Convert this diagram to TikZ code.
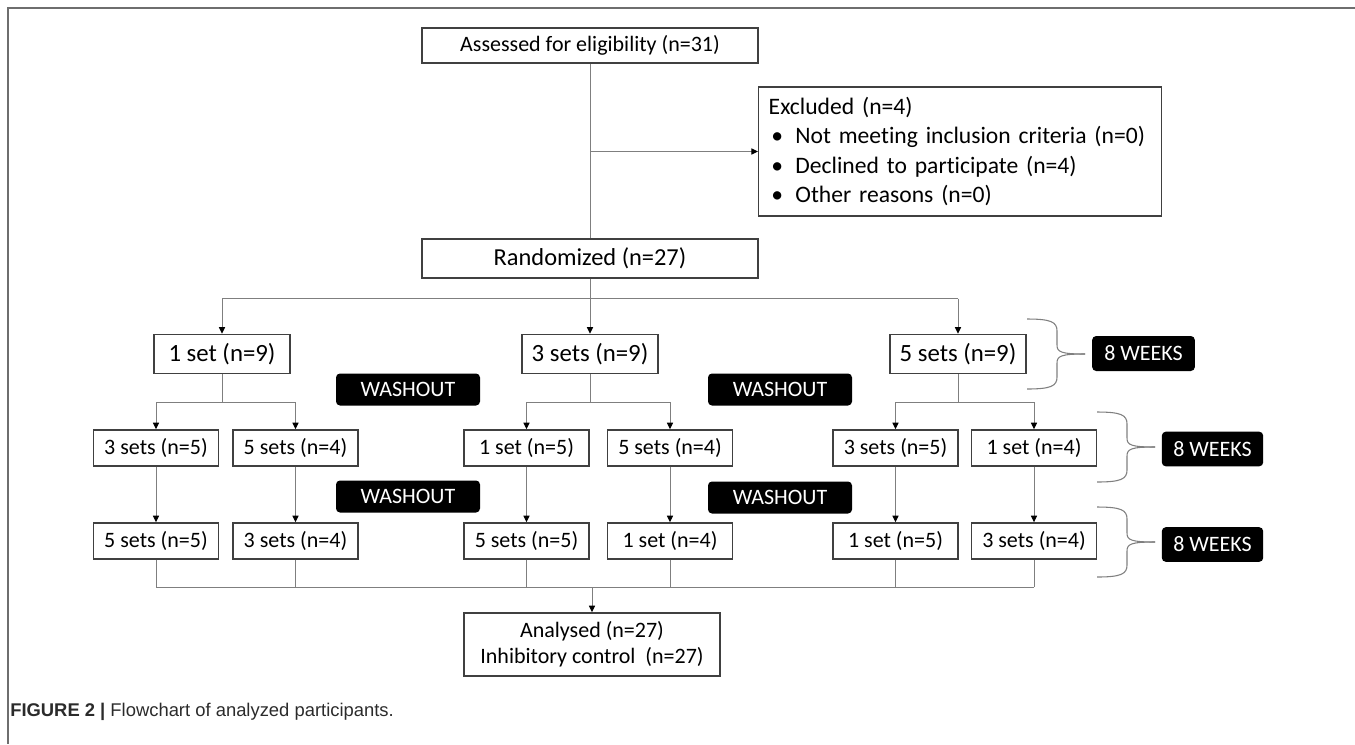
\documentclass[tikz,border=0pt]{standalone}
\usepackage{fontspec}
\setmainfont{Carlito}[RawFeature=-liga]
\newfontfamily\capfont{Liberation Sans}
\usetikzlibrary{arrows.meta,positioning,calc}
\definecolor{cEdge} {HTML}{404040}
\definecolor{cWire} {HTML}{7F7F7F}
\definecolor{cFrame}{HTML}{6E6E6E}
\definecolor{cCap}  {HTML}{2B2B2B}
\tikzset{
  blk/.style    ={draw=cEdge,line width=1.1pt,fill=white,align=center,inner sep=0pt,
                  font=\fontsize{16.5}{19.5}\selectfont,minimum height=27pt},
  top/.style    ={blk,minimum width=252pt},
  arm/.style    ={blk,minimum width=102pt,minimum height=29.25pt,
                  font=\fontsize{18.6}{22}\selectfont},
  leg/.style    ={blk,minimum width=94pt},
  tagbox/.style ={fill=black,rounded corners=3pt,text=white,inner sep=0pt,
                  font=\fontsize{16.5}{19.5}\selectfont,minimum height=24pt},
  wire/.style   ={draw=cWire,line width=0.75pt},
  sig/.style    ={wire,-{Triangle[length=5pt,width=4.6pt,color=black]}},
  brc/.style    ={draw=cWire,line width=0.8pt},
  frm/.style    ={draw=cFrame,line width=1.1pt},
}

\begin{document}
\begin{tikzpicture}[x=0.75pt, y=-0.75pt]
\useasboundingbox (0,0) rectangle (1355,744);
\draw[frm] (1355,8) -- (8,8) -- (8,744);

% ===== enrolment ==========================================================
\node[top,minimum height=26.25pt] (assess) at (590,45.5)
  {Assessed for eligibility (n=31)};
\node[blk,anchor=west,align=left,inner xsep=7.5pt,text width=287.25pt,
      minimum height=96.75pt,font=\fontsize{17.7}{22}\selectfont] (excl) at (758,151.5)
  {Excluded (n=4)\\
   \hspace*{2pt}\makebox[18pt][l]{\textbullet}Not meeting inclusion criteria (n=0)\\
   \hspace*{2pt}\makebox[18pt][l]{\textbullet}Declined to participate (n=4)\\
   \hspace*{2pt}\makebox[18pt][l]{\textbullet}Other reasons (n=0)};
\node[top,minimum height=29.25pt,font=\fontsize{18.3}{22}\selectfont] (rand) at (590,258.5)
  {Randomized (n=27)};

\draw[wire] (assess) -- (rand);
\draw[sig] (excl.west -| assess.south) -- (excl.west);

% ===== first period =======================================================
\node[arm] (g1) at (222,354) {1 set (n=9)};
\node[arm] (g2) at (590,354) {3 sets (n=9)};
\node[arm] (g3) at (958,354) {5 sets (n=9)};

\coordinate (br0) at ($(rand.south)+(0,20)$);
\draw[wire] (rand.south) -- (br0);
\draw[wire] (g1.north|-br0) -- (g3.north|-br0);
\foreach \n in {g1,g2,g3}{\draw[sig] (\n.north|-br0) -- (\n.north);}

% ===== second and third periods ===========================================
\def\yB{448}
\def\yC{541}
\node[leg] (a2) at (156,\yB)   {3 sets (n=5)};
\node[leg] (b2) at (295.5,\yB) {5 sets (n=4)};
\node[leg] (c2) at (526.5,\yB) {1 set (n=5)};
\node[leg] (d2) at (670,\yB)   {5 sets (n=4)};
\node[leg] (e2) at (895.5,\yB) {3 sets (n=5)};
\node[leg] (f2) at (1034,\yB)  {1 set (n=4)};

\node[leg] (a3) at (156,\yC)   {5 sets (n=5)};
\node[leg] (b3) at (295.5,\yC) {3 sets (n=4)};
\node[leg] (c3) at (526.5,\yC) {5 sets (n=5)};
\node[leg] (d3) at (670,\yC)   {1 set (n=4)};
\node[leg] (e3) at (895.5,\yC) {1 set (n=5)};
\node[leg] (f3) at (1034,\yC)  {3 sets (n=4)};

% each arm splits in two
\foreach \p/\l/\r in {g1/a2/b2,g2/c2/d2,g3/e2/f2}{
  \coordinate (\p-j) at ($(\p.south)+(0,28)$);
  \draw[wire] (\p.south) -- (\p-j);
  \draw[wire] (\l.north|-\p-j) -- (\r.north|-\p-j);
  \draw[sig] (\l.north|-\p-j) -- (\l.north);
  \draw[sig] (\r.north|-\p-j) -- (\r.north);
}
\foreach \n in {a,b,c,d,e,f}{\draw[sig] (\n2) -- (\n3);}

% washout gaps
\node[tagbox,minimum width=108pt] (wo1) at (408,389.5) {WASHOUT};
\node[tagbox,minimum width=108pt] (wo2) at (408,496.5) {WASHOUT};
\node[tagbox,minimum width=108pt] (wo3) at (780,389.5) {WASHOUT};
\node[tagbox,minimum width=108pt] (wo4) at (780,497.5) {WASHOUT};

% ===== period lengths =====================================================
\node[tagbox,minimum width=77pt,minimum height=26.25pt] (wk1) at (1143.5,353.5) {8 WEEKS};
\node[tagbox,minimum width=76pt,minimum height=26pt]    (wk2) at (1212.5,449)   {8 WEEKS};
\node[tagbox,minimum width=76pt,minimum height=26pt]    (wk3) at (1212.5,544.5) {8 WEEKS};
\foreach \xl/\yt/\ym/\yb in {1027/319/354/389,1097/412/447/482,1097/507/542/577}{
  \draw[brc] (\xl,\yt) .. controls (\xl+24,\yt) and (\xl+30,\yt+3) .. (\xl+30,\yt+12)
    -- (\xl+30,\ym-9) .. controls (\xl+30,\ym-2) and (\xl+34,\ym) .. (\xl+58,\ym);
  \draw[brc] (\xl+58,\ym) .. controls (\xl+34,\ym) and (\xl+30,\ym+2) .. (\xl+30,\ym+9)
    -- (\xl+30,\yb-12) .. controls (\xl+30,\yb-3) and (\xl+24,\yb) .. (\xl,\yb);
}

% ===== analysis ===========================================================
\node[blk,minimum width=192pt,minimum height=47.25pt] (an) at (592,644.5)
  {Analysed (n=27)\\ Inhibitory control\ \ (n=27)};
\coordinate (bot) at ($(an.north)+(0,-25)$);
\draw[wire] (a3.south|-bot) -- (f3.south|-bot);
\foreach \n in {a3,b3,c3,d3,e3,f3}{\draw[wire] (\n.south) -- (\n.south|-bot);}
\draw[sig] (an.north|-bot) -- (an.north);

% caption
\node[anchor=west,inner sep=0pt,text=cCap,font=\capfont\fontsize{13.8}{16}\selectfont] (cap)
  at (10,712) {\textbf{FIGURE 2 |} Flowchart of analyzed participants.};
\end{tikzpicture}
\end{document}
